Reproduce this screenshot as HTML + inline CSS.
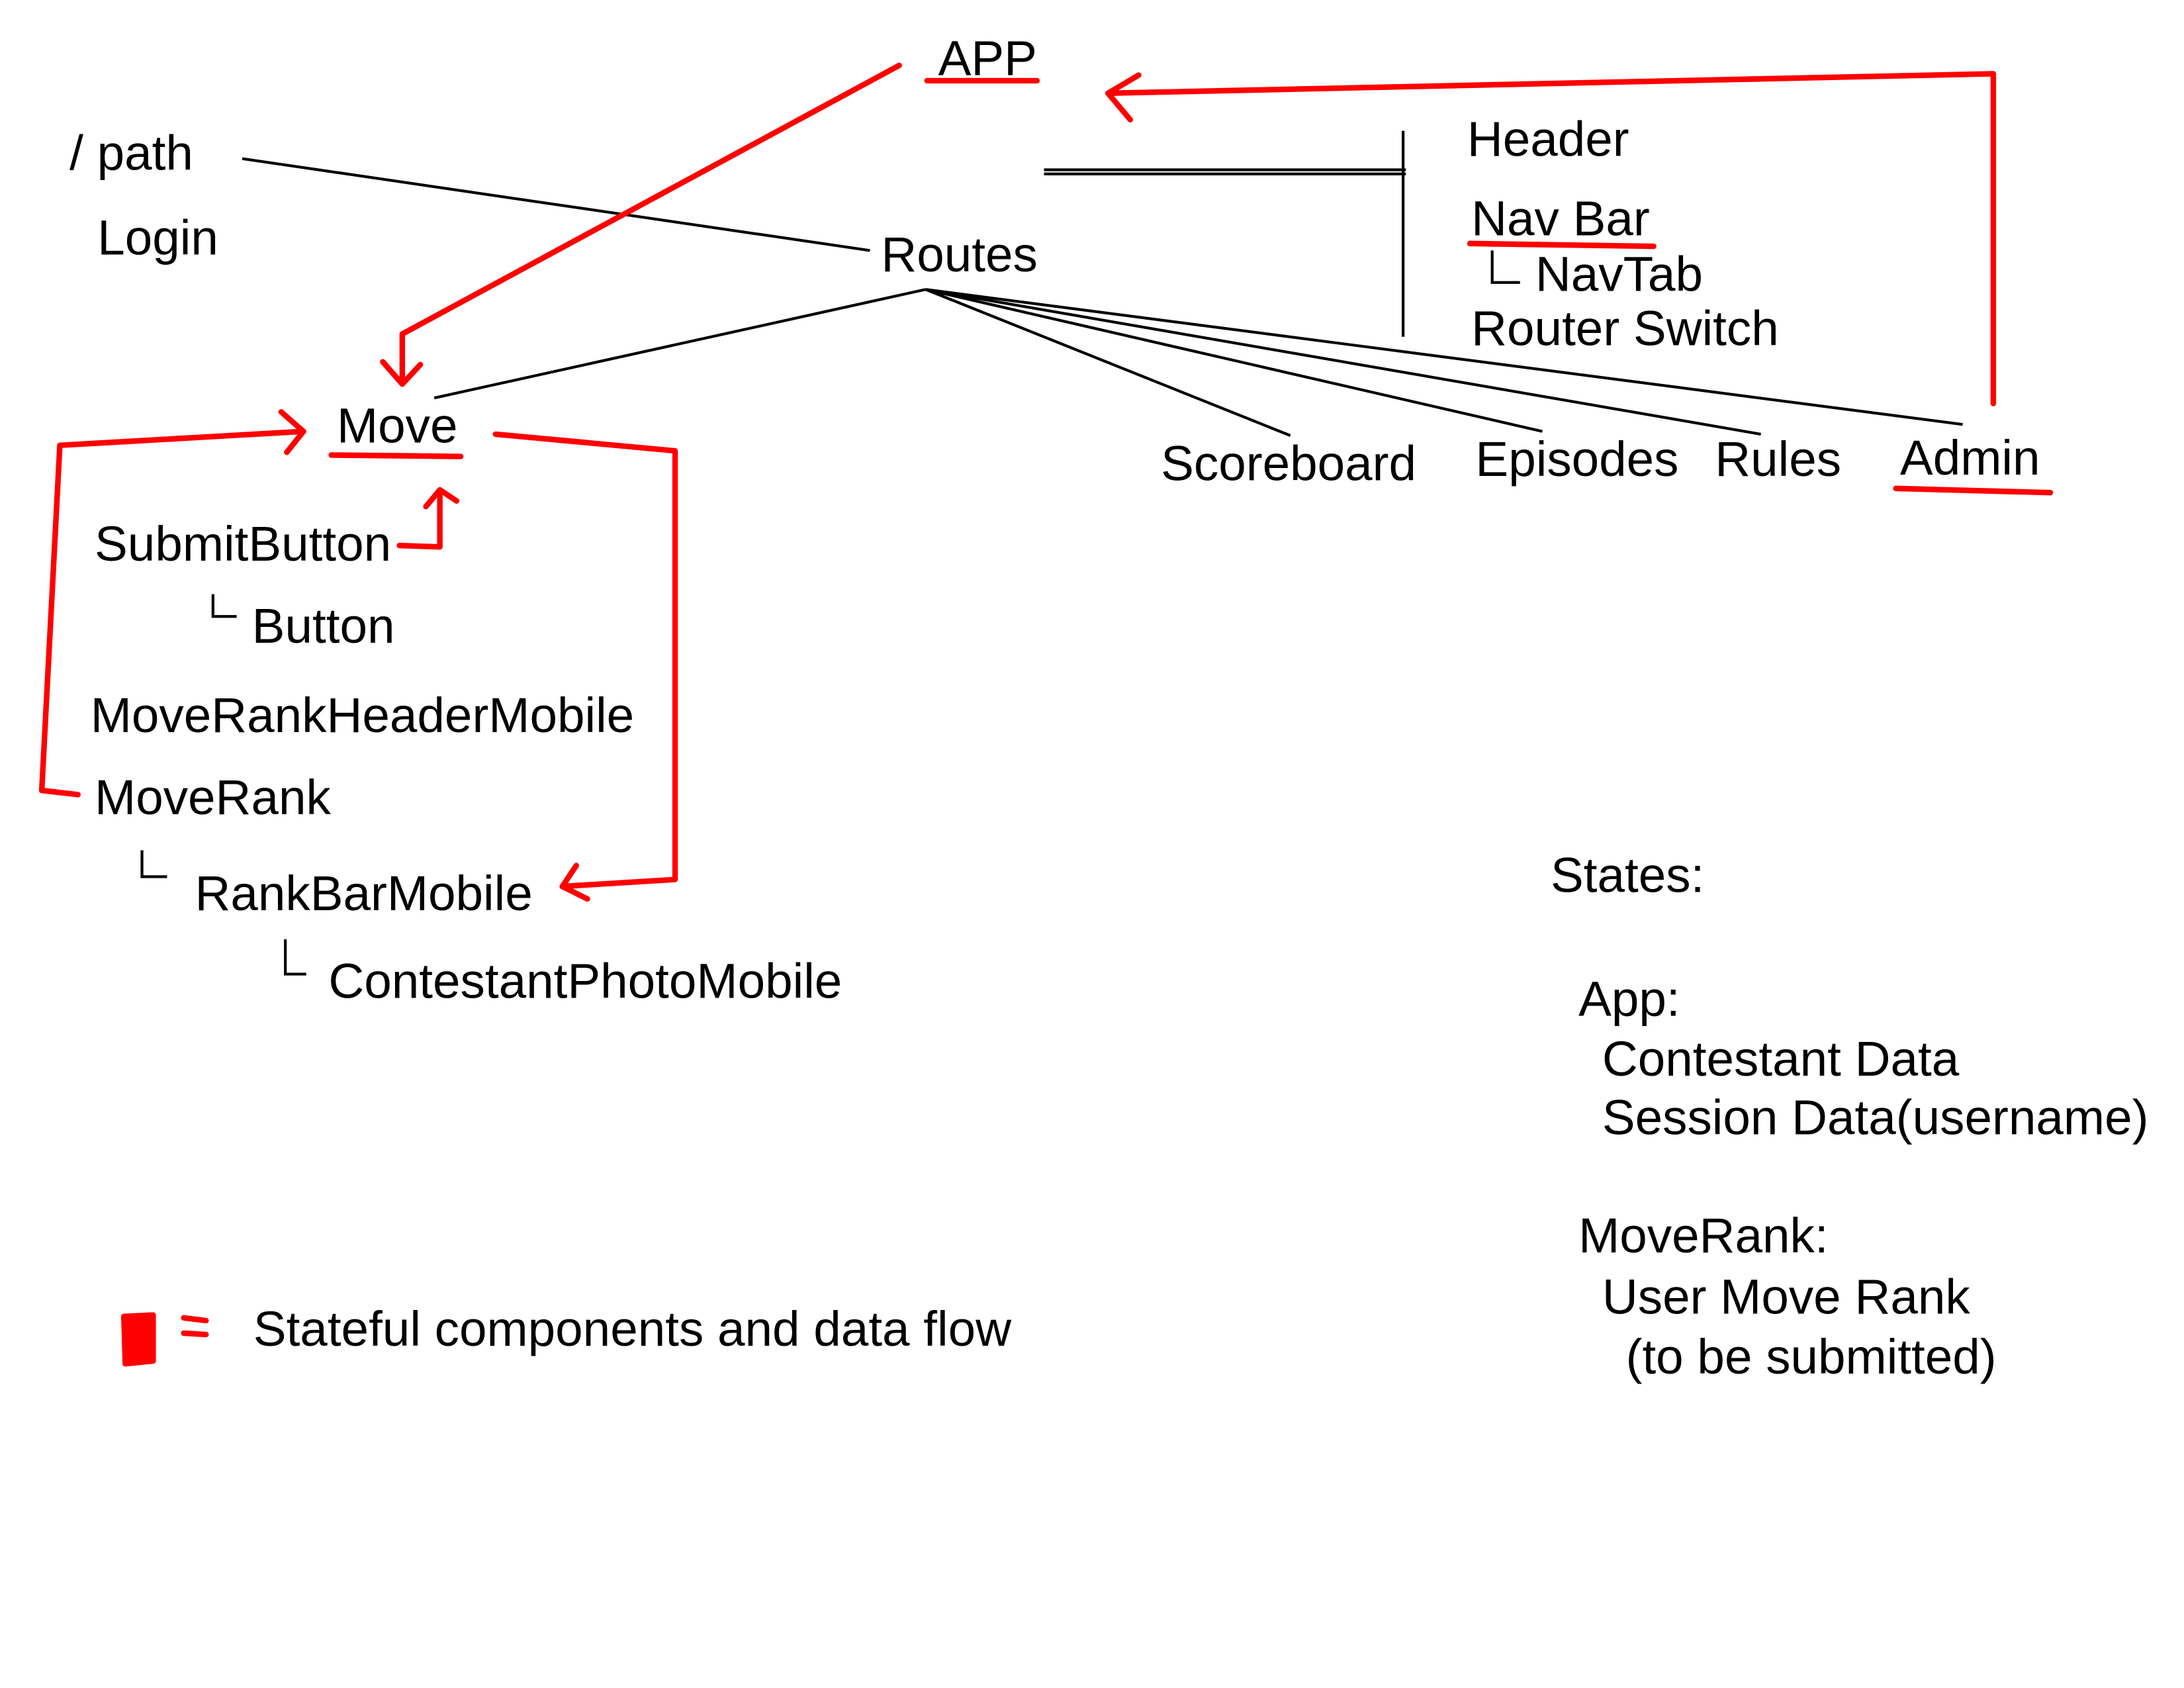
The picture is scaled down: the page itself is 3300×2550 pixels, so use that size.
<!DOCTYPE html>
<html><head><meta charset="utf-8"><style>html,body{margin:0;padding:0;background:#fff}svg{display:block}</style></head>
<body>
<svg width="3300" height="2550" viewBox="0 0 1569 1213" preserveAspectRatio="none" xmlns="http://www.w3.org/2000/svg">
<rect width="1569" height="1213" fill="#fff"/>
<g font-family="Liberation Sans, Arial, sans-serif" font-size="35.5" fill="#000">
<text x="674" y="54">APP</text>
<text x="50" y="122">/ path</text>
<text x="70" y="183">Login</text>
<text x="633" y="195">Routes</text>
<text x="1054" y="112">Header</text>
<text x="1057" y="169">Nav Bar</text>
<text x="1103" y="209">NavTab</text>
<text x="1057" y="248">Router Switch</text>
<text x="242" y="318">Move</text>
<text x="834" y="345">Scoreboard</text>
<text x="1060" y="342">Episodes</text>
<text x="1232" y="342">Rules</text>
<text x="1365" y="341">Admin</text>
<text x="68" y="403">SubmitButton</text>
<text x="181" y="462">Button</text>
<text x="65" y="526">MoveRankHeaderMobile</text>
<text x="68" y="585">MoveRank</text>
<text x="140" y="654">RankBarMobile</text>
<text x="236" y="717">ContestantPhotoMobile</text>
<text x="1114" y="641">States:</text>
<text x="1134" y="730">App:</text>
<text x="1151" y="773">Contestant Data</text>
<text x="1151" y="815">Session Data(username)</text>
<text x="1134" y="900">MoveRank:</text>
<text x="1151" y="944">User Move Rank</text>
<text x="1168" y="987">(to be submitted)</text>
<text x="182" y="967">Stateful components and data flow</text>
</g>
<g stroke="#000" stroke-width="2" fill="none">
<path d="M174 114 L625 180"/>
<path d="M750 122 L1010 122 M750 125 L1010 125"/>
<path d="M1008 94 L1008 242"/>
<path d="M1072 180 L1072 203 L1092 203"/>
<path d="M665 208 L312 286"/>
<path d="M665 208 L927 313 M665 208 L1108 310 M665 208 L1265 312 M665 208 L1410 305"/>
<path d="M153 427 L153 443 L170 443"/>
<path d="M102 611 L102 630 L120 630"/>
<path d="M205 675 L205 700 L220 700"/>
</g>
<g stroke="#f00" stroke-width="4" fill="none" stroke-linecap="round" stroke-linejoin="round">
<path d="M666 58 L745 58"/>
<path d="M646 47 L289 240 L289 276"/>
<path d="M275 260 L289 276 L302 262"/>
<path d="M1432 290 L1432 53 L796 67"/>
<path d="M818 54 L796 67 L812 86"/>
<path d="M1056 175 L1188 177"/>
<path d="M238 327 L331 328"/>
<path d="M1362 351 L1473 354"/>
<path d="M30 568 L56 571"/>
<path d="M30 568 L43 320 L218 310"/>
<path d="M202 296 L218 310 L206 325"/>
<path d="M356 312 L485 324 L485 632 L404 637"/>
<path d="M414 622 L404 637 L422 646"/>
<path d="M287 392 L316 393 L316 354"/>
<path d="M306 364 L316 352 L328 360"/>
<path d="M89 946 L110 945 L110 978 L90 980 Z" fill="#f00"/>
<path d="M132 947 L148 949 M132 958 L148 959"/>
</g>
</svg>
</body></html>
